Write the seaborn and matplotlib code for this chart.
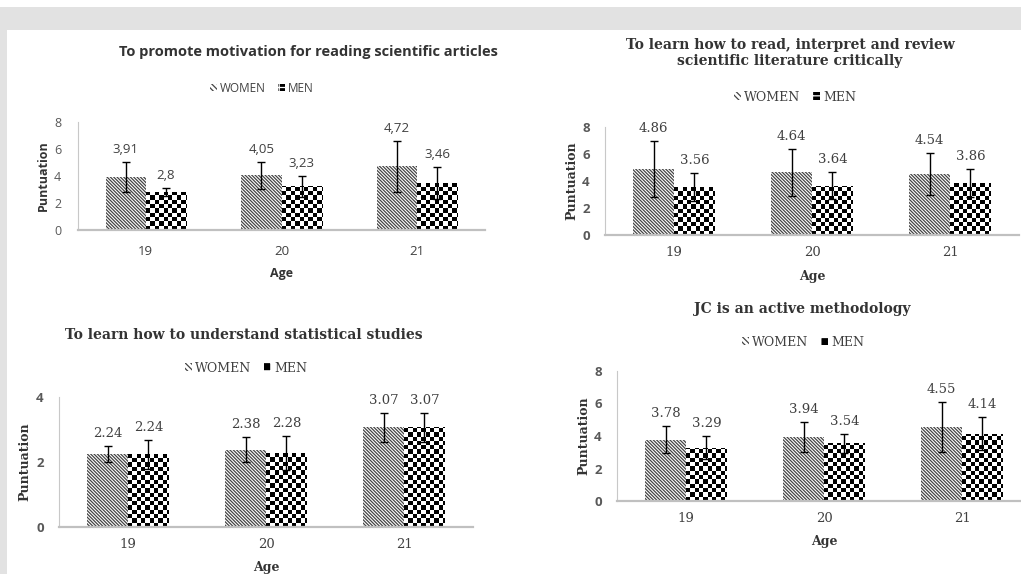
import numpy as np
import pandas as pd
import seaborn as sns
import matplotlib.pyplot as plt
from matplotlib.patches import Rectangle

# categories
ages = ['19', '20', '21']
groups = ['WOMEN', 'MEN']

# panel 1: motivation
motivation_women = [3.91, 4.05, 4.72]
motivation_men = [2.8, 3.23, 3.46]
motivation_women_err = [1.12, 1.0, 1.87]
motivation_men_err = [0.3, 0.77, 1.2]

# panel 2: critical reading
critical_women = [4.86, 4.64, 4.54]
critical_men = [3.56, 3.64, 3.86]
critical_women_err = [2.07, 1.75, 1.55]
critical_men_err = [1.03, 1.0, 1.03]

# panel 3: statistics
statistics_women = [2.24, 2.38, 3.07]
statistics_men = [2.24, 2.28, 3.07]
statistics_women_err = [0.25, 0.39, 0.44]
statistics_men_err = [0.44, 0.52, 0.44]

# panel 4: active methodology
active_women = [3.78, 3.94, 4.55]
active_men = [3.29, 3.54, 4.14]
active_women_err = [0.83, 0.92, 1.54]
active_men_err = [0.71, 0.58, 1.03]

titles = [
    'To promote motivation for reading scientific articles',
    'To learn how to read, interpret and review\nscientific literature critically',
    'To learn how to understand statistical studies',
    'JC is an active methodology',
]

W, H = 1021, 574
SANS = 'Open Sans'
SERIF = 'DejaVu Serif'
TICK_COLOR = '#595959'
TEXT_COLOR = '#333333'
HATCH_COLOR = '#444444'

sns.set_style('white')
plt.rcParams['hatch.linewidth'] = 0.9

fig = plt.figure(figsize=(W / 100, H / 100), dpi=100)
fig.patch.set_facecolor('white')

# grey page frame from the screenshot
fig.patches.append(Rectangle((0, 1 - 30 / H), 1, 23 / H, transform=fig.transFigure,
                             facecolor='#e2e2e2', edgecolor='none', zorder=0))
fig.patches.append(Rectangle((0, 0), 7 / W, 1 - 30 / H, transform=fig.transFigure,
                             facecolor='#e2e2e2', edgecolor='none', zorder=0))


def fx(x):
    return x / W


def fy(y):
    return 1 - y / H


# layout in screenshot pixels: axes box, title centre, legend centre, ylabel x
layouts = [
    dict(box=(78, 230, 407, 108), ymax=8, title=(308, 52), legend=(262, 88), ylab=43, serif=False),
    dict(box=(605, 235, 414, 108), ymax=8, title=(790, 53), legend=(795, 97), ylab=572, serif=True),
    dict(box=(59, 527, 414, 130), ymax=4, title=(244, 335), legend=(246, 368), ylab=25, serif=True),
    dict(box=(617, 501, 414, 130), ymax=8, title=(802, 309), legend=(803, 342), ylab=584, serif=True),
]

data = [
    (motivation_women, motivation_men, motivation_women_err, motivation_men_err),
    (critical_women, critical_men, critical_women_err, critical_men_err),
    (statistics_women, statistics_men, statistics_women_err, statistics_men_err),
    (active_women, active_men, active_women_err, active_men_err),
]


def checker_fill(ax, bar, cell_px=4.3):
    # overlay a black/white checkerboard clipped to the bar
    ext = bar.get_window_extent()
    x0, w, h = bar.get_x(), bar.get_width(), bar.get_height()
    if ext.width <= 0 or ext.height <= 0:
        return
    dx = cell_px * w / ext.width
    dy = cell_px * h / ext.height
    cols = int(np.ceil(ext.width / cell_px))
    rows = int(np.ceil(ext.height / cell_px))
    img = np.add.outer(np.arange(rows), np.arange(cols)) % 2
    im = ax.imshow(img, cmap='gray', vmin=0, vmax=1, origin='lower',
                   extent=(x0, x0 + cols * dx, 0, rows * dy),
                   interpolation='nearest', aspect='auto', zorder=bar.get_zorder())
    im.set_clip_path(bar)


for i, (lay, (women, men, women_err, men_err)) in enumerate(zip(layouts, data)):
    left, bottom, width, height = lay['box']
    ax = fig.add_axes([fx(left), fy(bottom), width / W, height / H])
    serif = lay['serif']
    font = SERIF if serif else SANS

    df = pd.DataFrame({
        'age': ages * 2,
        'sex': ['WOMEN'] * 3 + ['MEN'] * 3,
        'score': women + men,
        'err': women_err + men_err,
    })

    sns.barplot(data=df, x='age', y='score', hue='sex', order=ages, hue_order=groups,
                palette={'WOMEN': 'white', 'MEN': 'white'}, width=0.59, gap=0,
                errorbar=None, legend=False, ax=ax)

    ax.set_xlim(-0.5, 2.5)
    ax.set_ylim(0, lay['ymax'])
    ax.set_yticks(np.arange(0, lay['ymax'] + 1, 2))

    women_bars, men_bars = ax.containers[0], ax.containers[1]
    for bar in women_bars:
        bar.set_hatch('\\' * 10)
        bar.set_edgecolor(HATCH_COLOR)
        bar.set_linewidth(0)
    for bar in men_bars:
        bar.set_edgecolor('none')
        bar.set_linewidth(0)
        checker_fill(ax, bar)

    ax.set_xlim(-0.5, 2.5)
    ax.set_ylim(0, lay['ymax'])

    # error bars and value labels
    for bars, vals, errs in [(women_bars, women, women_err), (men_bars, men, men_err)]:
        xs = [b.get_x() + b.get_width() / 2 for b in bars]
        ax.errorbar(xs, vals, yerr=errs, fmt='none', ecolor='black',
                    elinewidth=1, capsize=3, capthick=1, zorder=5)
        for x, v, e in zip(xs, vals, errs):
            txt = f'{v:g}'
            if not serif:
                txt = txt.replace('.', ',')
            ax.annotate(txt, (x, v + e), xytext=(0, 9), textcoords='offset points',
                        ha='center', va='center', fontsize=9.5,
                        family=font, color='#404040')

    # spines and ticks
    sns.despine(ax=ax)
    ax.spines['left'].set_color('#c8c8c8')
    ax.spines['left'].set_linewidth(0.8)
    ax.spines['bottom'].set_color('#c0c0c0')
    ax.spines['bottom'].set_linewidth(1.6)
    ax.tick_params(axis='both', length=0)
    ax.tick_params(axis='x', pad=8 if serif else 11)
    ax.tick_params(axis='y', pad=11 if serif else 12)
    for lab in ax.get_xticklabels():
        lab.set_family(font)
        lab.set_fontsize(9.5)
        lab.set_color('#404040')
    for lab in ax.get_yticklabels():
        lab.set_family(SANS)
        lab.set_fontsize(9.5 if serif else 9)
        lab.set_color(TICK_COLOR)
        lab.set_fontweight('bold' if serif else 'normal')

    ax.set_xlabel('Age', family=font, fontweight='bold', fontsize=9, color=TEXT_COLOR)
    ax.xaxis.label.set_va('center')
    ax.xaxis.set_label_coords(0.5, -(44 if i == 0 else 41) / height)
    ax.set_ylabel('Puntuation', family=font, fontweight='bold', fontsize=9, color=TEXT_COLOR)
    ax.yaxis.label.set_va('center')
    ax.yaxis.set_label_coords((lay['ylab'] - left) / width, 0.5)

    tx, ty = lay['title']
    fig.text(fx(tx), fy(ty), titles[i], ha='center', va='center', family=font,
             fontweight='bold', fontsize=10 if serif else 10.5, color=TEXT_COLOR,
             linespacing=1.2)

    handles = [
        Rectangle((0, 0), 1, 1, facecolor='white', edgecolor=HATCH_COLOR, hatch='\\' * 6, linewidth=0),
        Rectangle((0, 0), 1, 1, facecolor='black', edgecolor='white', hatch='++', linewidth=0),
    ]
    lx, ly = lay['legend']
    ax.legend(handles, groups, loc='center', bbox_to_anchor=(fx(lx), fy(ly)),
              bbox_transform=fig.transFigure, ncol=2, frameon=False,
              handlelength=0.6, handleheight=0.6, handletextpad=0.25, columnspacing=1.0,
              prop={'family': font, 'size': 9 if serif else 8.5}, labelcolor='#404040')

fig.savefig('out.png', dpi=100)
